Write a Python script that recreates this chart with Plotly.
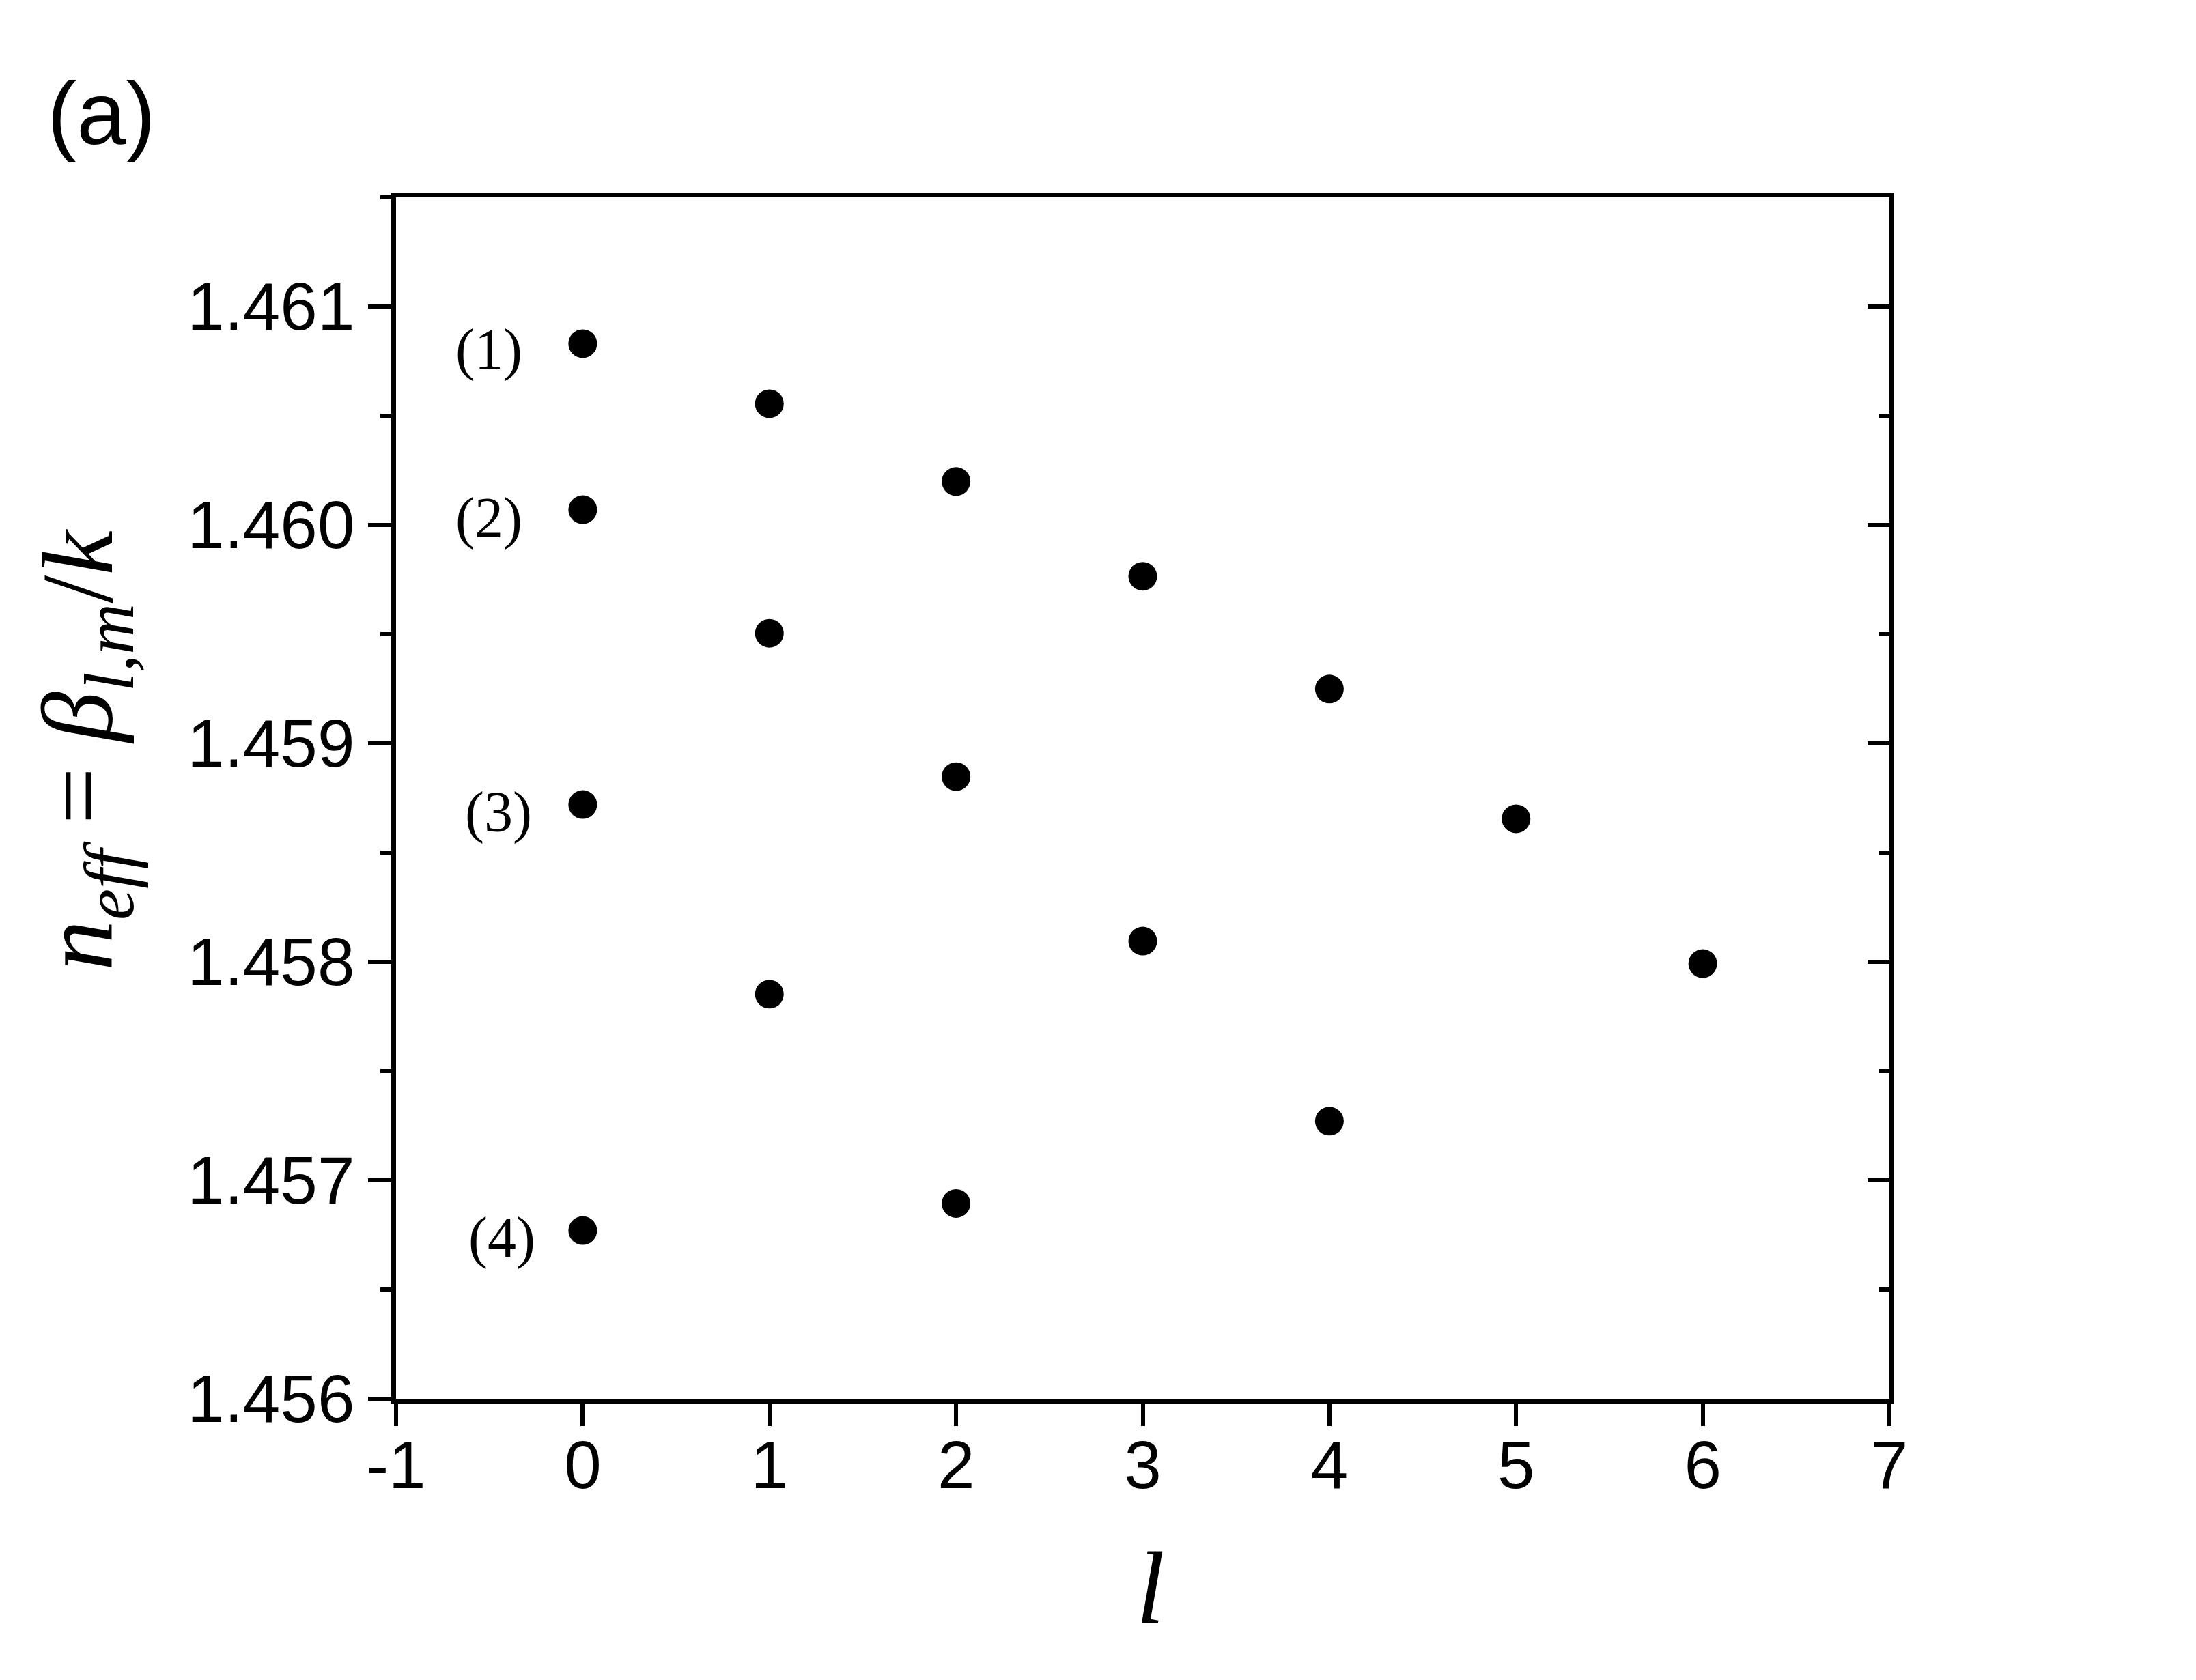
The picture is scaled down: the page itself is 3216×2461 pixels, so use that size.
"""Effective index n_eff = beta_{l,m}/k versus azimuthal order l, panel (a)."""

import plotly.graph_objects as go

# azimuthal order l for each radial family m
L_M1 = [0, 1, 2, 3, 4, 5, 6]
L_M2 = [0, 1, 2, 3, 4]
L_M3 = [0, 1, 2]
L_M4 = [0]

# effective index
NEFF_M1 = [1.46083, 1.460555, 1.460199, 1.459765, 1.459249, 1.458655, 1.457992]
NEFF_M2 = [1.46007, 1.459504, 1.458848, 1.458095, 1.457271]
NEFF_M3 = [1.45872, 1.457852, 1.456894]
NEFF_M4 = [1.45677]

MODE_LABELS = ["(1)", "(2)", "(3)", "(4)"]

X_RANGE = [-1, 7]
X_TICKS = [-1, 0, 1, 2, 3, 4, 5, 6, 7]
X_TICK_TEXT = ["-1", "0", "1", "2", "3", "4", "5", "6", "7"]
Y_RANGE = [1.456, 1.4615]
Y_TICKS = [1.456, 1.457, 1.458, 1.459, 1.460, 1.461]
Y_TICK_TEXT = ["1.456", "1.457", "1.458", "1.459", "1.460", "1.461"]
Y_MINOR = [1.4565, 1.4575, 1.4585, 1.4595, 1.4605, 1.4615]

SANS = "Liberation Sans, Arial, sans-serif"
SERIF = "Liberation Serif, Times New Roman, serif"

# label offsets (px) from their l=0 dot, right edge of text
LABEL_XSHIFT = [-86, -86, -72, -67]
LABEL_YSHIFT = [-9, -12, -11, -10]

fig = go.Figure()

families = [(L_M1, NEFF_M1), (L_M2, NEFF_M2), (L_M3, NEFF_M3), (L_M4, NEFF_M4)]
for ls, ns in families:
    fig.add_trace(
        go.Scatter(
            x=ls,
            y=ns,
            mode="markers",
            marker=dict(size=42, color="black", line=dict(width=0)),
            showlegend=False,
            hoverinfo="x+y",
        )
    )

# invisible trace to carry the right-hand (inward) tick axis
fig.add_trace(
    go.Scatter(
        x=L_M4, y=NEFF_M4, yaxis="y2", mode="markers",
        marker=dict(opacity=0), showlegend=False, hoverinfo="skip",
    )
)

annotations = []
first_points = [NEFF_M1[0], NEFF_M2[0], NEFF_M3[0], NEFF_M4[0]]
for text, yv, dx, dy in zip(MODE_LABELS, first_points, LABEL_XSHIFT, LABEL_YSHIFT):
    annotations.append(
        dict(
            x=0, y=yv, xref="x", yref="y", text=text, showarrow=False,
            xanchor="right", yanchor="middle", xshift=dx, yshift=dy,
            font=dict(family=SERIF, size=84, color="black"),
        )
    )

# axis titles and panel letter
annotations += [
    dict(
        x=-0.2080, y=0.5398, xref="paper", yref="paper", showarrow=False,
        text="<i>n</i><sub><i>eff</i></sub> = <i>β</i><sub><i>l,m</i></sub>/<i>k</i>",
        textangle=-90, xanchor="center", yanchor="middle",
        font=dict(family=SERIF, size=148, color="black"),
    ),
    dict(
        x=0.5053, y=-0.1574, xref="paper", yref="paper", showarrow=False,
        text="<i>l</i>", xanchor="center", yanchor="middle",
        font=dict(family=SERIF, size=150, color="black"),
    ),
    dict(
        x=-0.1971, y=1.0699, xref="paper", yref="paper", showarrow=False,
        text="(a)", xanchor="center", yanchor="middle",
        font=dict(family=SANS, size=130, color="black"),
    ),
]

# the page body adds an 8 px offset, so the canvas is trimmed by that much
fig.update_layout(
    width=3208,
    height=2453,
    margin=dict(l=572, r=449, t=281, b=412),
    plot_bgcolor="white",
    paper_bgcolor="white",
    showlegend=False,
    annotations=annotations,
    xaxis=dict(
        range=X_RANGE,
        tickvals=X_TICKS,
        ticktext=X_TICK_TEXT,
        showgrid=False,
        zeroline=False,
        showline=True,
        linecolor="black",
        linewidth=7,
        mirror=True,
        ticks="outside",
        ticklen=33,
        tickwidth=6,
        tickcolor="black",
        ticklabelstandoff=-27,
        tickfont=dict(family=SANS, size=98, color="black"),
        fixedrange=True,
    ),
    yaxis=dict(
        range=Y_RANGE,
        tickvals=Y_TICKS,
        ticktext=Y_TICK_TEXT,
        showgrid=False,
        zeroline=False,
        showline=True,
        linecolor="black",
        linewidth=7,
        mirror=True,
        ticks="outside",
        ticklen=34,
        tickwidth=6,
        tickcolor="black",
        tickfont=dict(family=SANS, size=98, color="black"),
        minor=dict(
            tickvals=Y_MINOR,
            ticks="outside", ticklen=16, tickwidth=6, tickcolor="black",
            showgrid=False,
        ),
        fixedrange=True,
    ),
    yaxis2=dict(
        range=Y_RANGE,
        overlaying="y",
        side="right",
        tickvals=Y_TICKS,
        showticklabels=False,
        showgrid=False,
        zeroline=False,
        showline=False,
        ticks="inside",
        ticklen=32,
        tickwidth=6,
        tickcolor="black",
        minor=dict(
            tickvals=Y_MINOR,
            ticks="inside", ticklen=15, tickwidth=6, tickcolor="black",
            showgrid=False,
        ),
        fixedrange=True,
    ),
)

fig.write_html("out.html")
